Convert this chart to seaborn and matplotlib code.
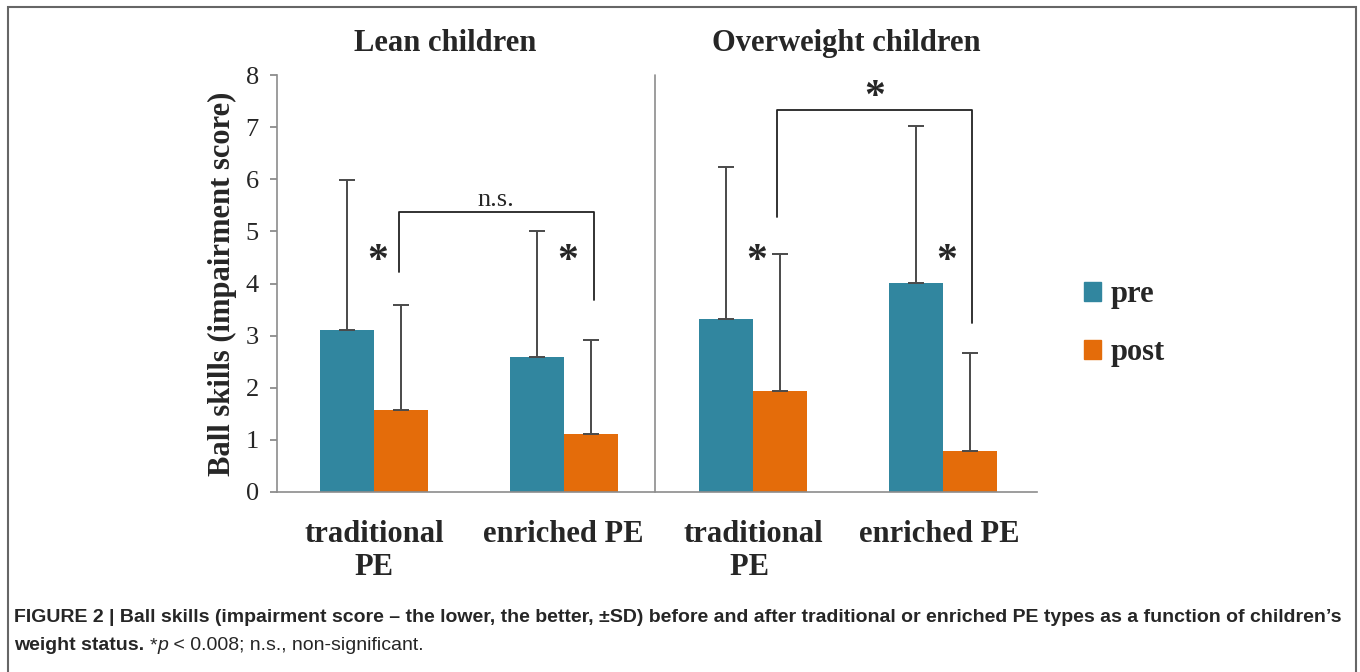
import matplotlib
matplotlib.use("Agg")
import matplotlib.pyplot as plt
import numpy as np
import pandas as pd
import seaborn as sns
from matplotlib.patches import Rectangle

# data
categories = ["traditional\nPE", "enriched PE", "traditional\nPE ", "enriched PE "]
groups = ["Lean children", "Overweight children"]
pre_mean = [3.11, 2.59, 3.32, 4.01]
post_mean = [1.57, 1.11, 1.94, 0.79]
pre_sd = [2.88, 2.42, 2.92, 3.01]
post_sd = [2.02, 1.81, 2.63, 1.88]
phases = ["pre", "post"]
colors = {"pre": "#31869F", "post": "#E46C0A"}

df = pd.DataFrame({
    "category": categories * 2,
    "phase": ["pre"] * 4 + ["post"] * 4,
    "score": pre_mean + post_mean,
    "sd": pre_sd + post_sd,
})

sns.set_theme(style="white")
plt.rcParams["font.family"] = ["Liberation Serif", "DejaVu Serif"]

fig = plt.figure(figsize=(13.6, 6.72), dpi=100)
ax = fig.add_axes([277 / 1360, 1 - 492 / 672, 760 / 1360, 417 / 672])

sns.barplot(data=df, x="category", y="score", hue="phase", order=categories,
            hue_order=phases, palette=colors, width=0.57, gap=0,
            errorbar=None, saturation=1, ax=ax, legend=False,
            linewidth=0, edgecolor="none")

# upper-only SD whiskers, positioned from the drawn bars
bars = {}
for cont, ph in zip(ax.containers, phases):
    for i, patch in enumerate(cont.patches):
        bars[(ph, i)] = patch.get_x() + patch.get_width() / 2
sd_map = {"pre": pre_sd, "post": post_sd}
mean_map = {"pre": pre_mean, "post": post_mean}
for ph in phases:
    xs = [bars[(ph, i)] for i in range(4)]
    ax.errorbar(xs, mean_map[ph], yerr=[np.zeros(4), sd_map[ph]], fmt="none",
                ecolor="#4a4a4a", elinewidth=1.4, capsize=5.5, capthick=1.4,
                zorder=3)

ax.set_xlim(-0.511, 3.495)
ax.set_ylim(0, 8)
ax.set_yticks(range(0, 9))
ax.set_xlabel("")
ax.set_ylabel("Ball skills (impairment score)", fontsize=22, fontweight="bold",
              labelpad=6)
ax.tick_params(axis="y", labelsize=19, length=5, color="#888888", left=True,
               pad=8)
ax.tick_params(axis="x", labelsize=22, length=0, pad=20)
for lab in ax.get_xticklabels():
    lab.set_fontweight("bold")
    lab.set_linespacing(1.2)
    lab.set_verticalalignment("top")
sns.despine(ax=ax)
for sp in ("left", "bottom"):
    ax.spines[sp].set_color("#8c8c8c")
    ax.spines[sp].set_linewidth(1.2)

# group divider
ax.plot([1.48, 1.48], [0, 8], color="#8c8c8c", lw=1.2, clip_on=False)

# group titles
ax.text(0.375, 8.6, groups[0], ha="center", va="center", fontsize=22,
        fontweight="bold")
ax.text(2.49, 8.6, groups[1], ha="center", va="center", fontsize=22,
        fontweight="bold")

# significance markers
br = "#222222"
xl, xr = bars[("post", 0)] - 0.01, bars[("post", 1)] + 0.015
ax.plot([xl, xl, xr, xr], [4.22, 5.37, 5.37, 3.68], color=br, lw=1.3)
ax.text((xl + xr) / 2, 5.6, "n.s.", ha="center", va="center", fontsize=19)
xl2, xr2 = bars[("post", 2)] - 0.02, bars[("post", 3)] + 0.01
ax.plot([xl2, xl2, xr2, xr2], [5.28, 7.33, 7.33, 3.24], color=br, lw=1.3,
        clip_on=False)
ax.text((xl2 + xr2) / 2, 7.55, "*", ha="center", va="center", fontsize=30,
        fontweight="bold")
for i in range(4):
    ax.text(i + 0.02, 4.42, "*", ha="center", va="center", fontsize=30,
            fontweight="bold")

# legend
handles = [Rectangle((0, 0), 1, 1, color=colors[p]) for p in phases]
fig.legend(handles, phases, loc="center left", bbox_to_anchor=(0.777, 0.518),
           frameon=False, prop={"size": 22, "weight": "bold"},
           handlelength=0.55, handleheight=0.55, handletextpad=0.3,
           labelspacing=0.95)

# frame around figure panel
fig.patches.append(Rectangle((8 / 1360, -0.05), 1348 / 1360, 1.05 - 7 / 672,
                             transform=fig.transFigure, fill=False,
                             edgecolor="#666666", lw=1.5))

# caption
cap_font = ["Liberation Sans", "DejaVu Sans"]
cap_size = 14
fig.text(14 / 1360, 1 - 617 / 672,
         "FIGURE 2 | Ball skills (impairment score \u2013 the lower, the better, "
         "\u00b1SD) before and after traditional or enriched PE types as a "
         "function of children\u2019s",
         fontsize=cap_size, fontweight="bold", family=cap_font, va="center")
fig.canvas.draw()
renderer = fig.canvas.get_renderer()
x0 = 14 / 1360
y2 = 1 - 646 / 672
pieces = [("weight status. ", "bold", "normal"), ("*", "normal", "normal"),
          ("p", "normal", "italic"),
          (" < 0.008; n.s., non-significant.", "normal", "normal")]
for txt, wt, st in pieces:
    t = fig.text(x0, y2, txt, fontsize=cap_size, fontweight=wt, fontstyle=st,
                 family=cap_font, va="center")
    bb = t.get_window_extent(renderer)
    x0 = bb.x1 / fig.bbox.width

fig.savefig("out.png", dpi=100)
